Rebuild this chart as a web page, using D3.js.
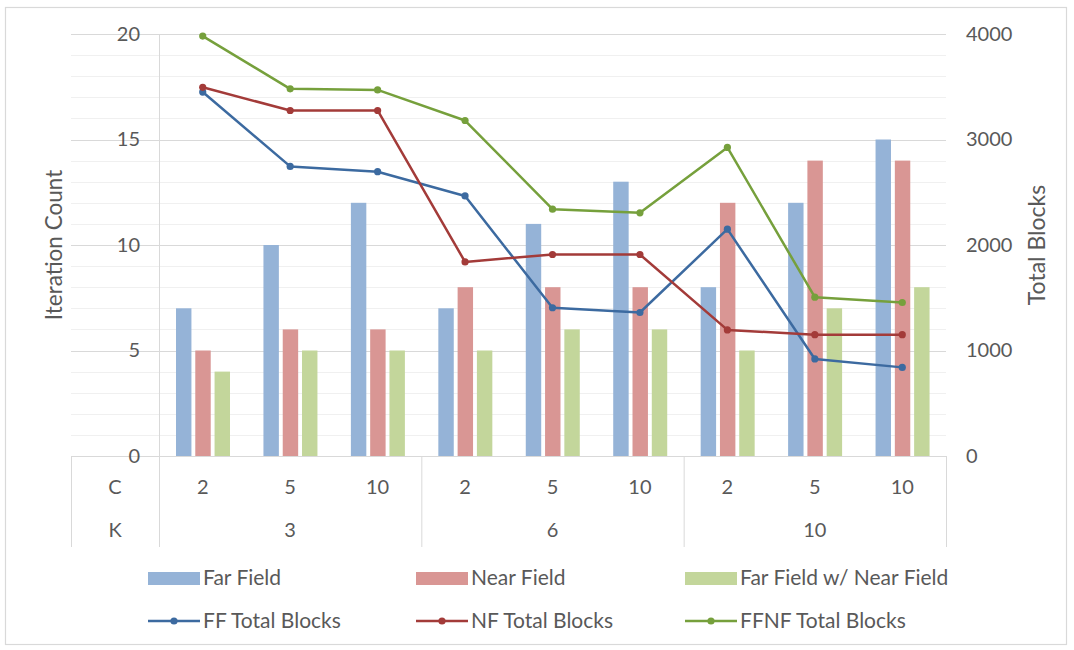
<!DOCTYPE html>
<html><head><meta charset="utf-8">
<script src="https://cdn.jsdelivr.net/npm/d3@7"></script>
<style>
html,body{margin:0;padding:0;background:#fff;}
svg text{font-family:Lato,"Open Sans",sans-serif;fill:#595959;}
</style></head>
<body><svg id="c" width="1074" height="650"></svg>
<script>
const kGroups = ["3","6","10"];
const cValues = ["2","5","10"];
const farField = [7,10,12,7,11,13,8,12,15];
const nearField = [5,6,6,8,8,8,12,14,14];
const ffnf = [4,5,5,5,6,6,5,7,8];
const ffTotal = [3450,2745,2695,2465,1405,1360,2150,920,840];
const nfTotal = [3495,3275,3275,1840,1910,1910,1195,1150,1150];
const ffnfTotal = [3980,3480,3470,3180,2340,2305,2925,1505,1455];
const leftTicks = [0,5,10,15,20];
const rightTicks = [0,1000,2000,3000,4000];
const barSeries = ["Far Field","Near Field","Far Field w/ Near Field"];
const lineSeries = ["FF Total Blocks","NF Total Blocks","FFNF Total Blocks"];
const barColors = ["#95b3d7","#d99694","#c3d69b"];
const lineColors = ["#3c6aa0","#a33b39","#76a03c"];

const svg = d3.select("#c");
const cats = [];
kGroups.forEach(k=>cValues.forEach(c=>cats.push(k+"|"+c)));

const L=159, R=946, T=34, B=456;
const x = d3.scaleBand().domain(cats).range([L,R]).paddingInner(0).paddingOuter(0);
const xs = d3.scaleBand().domain(d3.range(3)).range([17,71]).paddingInner(0.2);
const yL = d3.scaleLinear().domain([0,20]).range([B,T]);
const yR = d3.scaleLinear().domain([0,4000]).range([B,T]);

// border
svg.append("rect").attr("x",5.5).attr("y",7.5).attr("width",1061).attr("height",637)
  .attr("fill","none").attr("stroke","#d9d9d9").attr("stroke-width",1.2);

// minor grid
svg.append("g").selectAll("line").data(d3.range(1,20).filter(v=>v%5!==0)).join("line")
  .attr("x1",71).attr("x2",R).attr("y1",d=>Math.round(yL(d))+0.5).attr("y2",d=>Math.round(yL(d))+0.5)
  .attr("stroke","#f0f0f0").attr("stroke-width",1);
// major grid
svg.append("g").selectAll("line").data(leftTicks).join("line")
  .attr("x1",71).attr("x2",R).attr("y1",d=>Math.round(yL(d))+0.5).attr("y2",d=>Math.round(yL(d))+0.5)
  .attr("stroke","#d9d9d9").attr("stroke-width",1);

// vertical lines
svg.append("line").attr("x1",L+0.5).attr("x2",L+0.5).attr("y1",T).attr("y2",547).attr("stroke","#d9d9d9");
svg.append("line").attr("x1",71.5).attr("x2",71.5).attr("y1",B).attr("y2",547).attr("stroke","#d9d9d9");
[3,6,9].forEach(i=>{
  const xx = i<9 ? x(cats[i]) : R;
  svg.append("line").attr("x1",xx+0.5).attr("x2",xx+0.5).attr("y1",B).attr("y2",547).attr("stroke","#d9d9d9");
});

// left axis
const gl = svg.append("g").attr("transform",`translate(${L},0)`)
  .call(d3.axisLeft(yL).tickValues(leftTicks).tickSize(0).tickPadding(19));
gl.select(".domain").remove();
gl.selectAll("text").attr("font-size",20).attr("fill","#595959").style("font-family","Lato");
// right axis
const gr = svg.append("g").attr("transform",`translate(${R},0)`)
  .call(d3.axisRight(yR).tickValues(rightTicks).tickFormat(d3.format("d")).tickSize(0).tickPadding(20));
gr.select(".domain").remove();
gr.selectAll("text").attr("font-size",20).attr("fill","#595959").style("font-family","Lato");

// axis titles
svg.append("text").attr("transform",`translate(62,${(T+B)/2}) rotate(-90)`).attr("text-anchor","middle")
  .attr("font-size",22.5).text("Iteration Count");
svg.append("text").attr("transform",`translate(1045,${(T+B)/2}) rotate(-90)`).attr("text-anchor","middle")
  .attr("font-size",23).text("Total Blocks");

// bars
const barData = [farField,nearField,ffnf];
barData.forEach((arr,s)=>{
  svg.append("g").selectAll("rect").data(arr).join("rect")
    .attr("x",(d,i)=>x(cats[i])+xs(s)).attr("width",xs.bandwidth())
    .attr("y",d=>yL(d)).attr("height",d=>yL(0)-yL(d)).attr("fill",barColors[s]);
});

// lines
const lineData = [ffTotal,nfTotal,ffnfTotal];
const line = d3.line().x((d,i)=>x(cats[i])+x.bandwidth()/2).y(d=>yR(d));
lineData.forEach((arr,s)=>{
  svg.append("path").datum(arr).attr("d",line).attr("fill","none").attr("stroke",lineColors[s])
    .attr("stroke-width",2.5).attr("stroke-linejoin","round");
  svg.append("g").selectAll("circle").data(arr).join("circle")
    .attr("cx",(d,i)=>x(cats[i])+x.bandwidth()/2).attr("cy",d=>yR(d)).attr("r",3.6).attr("fill",lineColors[s]);
});

// category labels
svg.append("text").attr("x",115).attr("y",494).attr("text-anchor","middle").attr("font-size",20).text("C");
svg.append("text").attr("x",115).attr("y",537).attr("text-anchor","middle").attr("font-size",20).text("K");
svg.append("g").selectAll("text").data(cats).join("text")
  .attr("x",d=>x(d)+x.bandwidth()/2).attr("y",494).attr("text-anchor","middle").attr("font-size",20)
  .text(d=>d.split("|")[1]);
svg.append("g").selectAll("text").data(kGroups).join("text")
  .attr("x",(d,i)=>x(cats[i*3+1])+x.bandwidth()/2).attr("y",537).attr("text-anchor","middle").attr("font-size",20)
  .text(d=>d);

// legend
const legX = [148,416,685];
barSeries.forEach((n,i)=>{
  svg.append("rect").attr("x",legX[i]).attr("y",572).attr("width",52).attr("height",13).attr("fill",barColors[i]);
  svg.append("text").attr("x",legX[i]+55).attr("y",585).attr("font-size",21).text(n);
});
lineSeries.forEach((n,i)=>{
  svg.append("line").attr("x1",legX[i]).attr("x2",legX[i]+52).attr("y1",621).attr("y2",621)
    .attr("stroke",lineColors[i]).attr("stroke-width",2.5);
  svg.append("circle").attr("cx",legX[i]+26).attr("cy",621).attr("r",3.6).attr("fill",lineColors[i]);
  svg.append("text").attr("x",legX[i]+55).attr("y",628).attr("font-size",21).text(n);
});
</script></body></html>
